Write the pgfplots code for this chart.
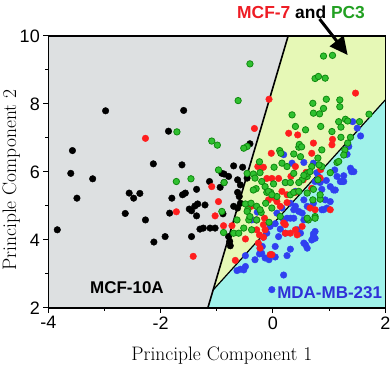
\documentclass[border=0pt]{standalone}
\usepackage{fontspec}
\setsansfont{Liberation Sans}
\usepackage{pgfplots}
\pgfplotsset{compat=1.18}
\usetikzlibrary{arrows.meta}
\definecolor{bggray}{HTML}{DDE0E1}
\definecolor{bgyellow}{HTML}{E6F8B6}
\definecolor{bgcyan}{HTML}{A0F2EA}
\definecolor{dred}{HTML}{FF1E1E}
\definecolor{dgreen}{HTML}{30C030}
\definecolor{dgreenedge}{HTML}{108A10}
\definecolor{dblue}{HTML}{3040F0}
\definecolor{tblue}{HTML}{3030D8}
\definecolor{tred}{HTML}{EE1C24}
\definecolor{tgreen}{HTML}{22A022}
\begin{document}
\begin{tikzpicture}
\useasboundingbox (0,0) rectangle (392pt,366pt);
\begin{axis}[
  at={(48.3pt,58pt)}, anchor=south west,
  scale only axis, width=337pt, height=272pt,
  xmin=-4, xmax=2, ymin=2, ymax=10,
  xtick={-4,-2,0,2}, ytick={2,4,6,8,10},
  minor tick num=1, tick align=outside, tick pos=left,
  major tick length=5pt, minor tick length=3pt,
  axis line style={line width=1.2pt},
  every tick/.style={line width=1pt, black},
  ticklabel style={font=\sffamily\fontsize{18}{18}\selectfont},
  /pgf/number format/assume math mode=true,
  xlabel={Principle Component 1},
  ylabel={Principle Component 2},
  xlabel style={at={(axis description cs:0.515,-0.1434)}, anchor=north, inner sep=0pt, font=\fontsize{19.5}{20}\selectfont},
  ylabel style={at={(axis description cs:-0.1365,0.47)}, anchor=north, inner sep=0pt, font=\fontsize{19.5}{20}\selectfont},
  clip=false, axis on top,
]
% background regions
\addplot[fill=bggray, draw=none] coordinates {(-4,2) (-1.16,2) (0.27,10) (-4,10)} -- cycle;
\addplot[fill=bgyellow, draw=none] coordinates {(-1.065,2.53) (0.27,10) (2,10) (2,8.12)} -- cycle;
\addplot[fill=bgcyan, draw=none] coordinates {(-1.16,2) (2,2) (2,8.12) (-1.065,2.53)} -- cycle;
\addplot[black, line width=1.6pt] coordinates {(-1.16,2) (0.27,10)};
\addplot[black, line width=1.2pt] coordinates {(-1.065,2.53) (2,8.12)};
% black: MCF-10A
\addplot[only marks, mark=*, mark size=3.3pt, black] coordinates {
(-3.84,4.30) (-3.57,6.63) (-3.60,5.96) (-3.49,5.23) (-3.21,5.80) (-2.98,7.80) (-2.63,4.78) (-2.56,5.38) (-2.48,5.23) (-2.37,5.37) (-2.27,4.59) (-2.13,6.24) (-2.12,3.94) (-1.92,4.10) (-1.86,7.20) (-1.84,4.79) (-1.80,5.23) (-1.62,6.21) (-1.61,5.33) (-1.59,7.81) (-1.56,5.38) (-1.49,4.91) (-1.45,4.10) (-1.45,4.86) (-1.39,5.00) (-1.36,5.49) (-1.36,4.71) (-1.34,5.06) (-1.30,4.32) (-1.21,5.03) (-1.13,5.72) (-1.24,4.35) (-1.12,4.35) (-1.03,4.35) (-0.94,5.55) (-0.91,5.96) (-0.89,4.77) (-0.87,5.69) (-0.87,5.94) (-0.79,5.87) (-0.79,4.10) (-0.77,3.96) (-0.76,3.83) (-0.70,6.18) (-0.63,5.77) (-0.63,5.40) (-0.60,5.28) (-0.58,5.08) (-0.58,5.62) (-0.54,6.14) (-0.46,5.82) (-0.41,6.83) (-0.70,4.99) (-0.63,4.94)
};
% blue: MDA-MB-231
\addplot[only marks, mark=*, mark size=3.3pt, dblue] coordinates {
(0.19,6.51) (0.34,6.26) (0.55,6.28) (0.72,6.26) (0.22,5.69) (0.40,5.43) (0.55,5.18) (0.75,5.72) (0.81,5.87) (0.95,5.75) (1.08,5.47) (1.14,5.87) (1.23,5.72) (1.32,6.52) (1.35,6.75) (1.42,7.48) (1.50,7.29) (1.56,7.06) (1.38,6.11) (1.40,6.01) (1.26,5.89) (0.93,5.18) (0.90,4.89) (0.72,5.08) (0.61,4.99) (0.52,4.79) (0.37,4.89) (0.31,4.64) (0.25,4.64) (0.16,4.94) (0.07,4.79) (0.04,4.48) (-0.05,4.40) (-0.11,4.20) (-0.17,4.08) (-0.23,3.76) (-0.32,3.42) (-0.24,3.59) (-0.14,3.47) (-0.07,3.42) (0.04,3.50) (0.25,3.54) (0.31,3.73) (0.19,2.97) (0.10,4.10) (0.13,4.32) (0.22,4.20) (0.43,4.30) (0.49,4.20) (0.58,3.86) (0.55,3.91) (0.72,4.10) (0.75,4.25) (0.55,4.59) (-0.49,3.22) (-0.58,3.14) (-0.64,3.10) (-0.49,3.54) (-0.38,4.59) (-0.30,4.59) (-0.02,2.54) (-0.28,4.82) (1.26,5.72) (1.02,5.13) (0.87,5.49) (0.84,5.69) (0.78,5.98) (0.37,4.64) (1.10,6.06) (1.20,5.72) (1.44,6.01) (1.02,5.57) (1.11,5.47) (0.87,4.89) (0.96,4.94) (0.31,5.08) (0.40,4.99) (0.46,4.84) (0.19,4.59) (0.72,4.18) (0.75,4.05) (0.69,4.00) (0.61,3.76) (-0.20,3.61) (-0.52,3.12) (-0.19,3.81) (0.04,3.81)
};
% red: MCF-7
\addplot[only marks, mark=*, mark size=3.3pt, dred] coordinates {
(-2.27,6.99) (-1.72,4.83) (-1.42,3.52) (-1.09,5.57) (-0.97,5.13) (-1.03,4.71) (-0.88,4.42) (-0.67,3.40) (-0.49,4.03) (-0.33,7.28) (-0.27,6.16) (-0.17,6.14) (-0.07,8.14) (-0.03,6.55) (-0.11,5.81) (0.10,5.81) (-0.15,4.64) (-0.14,4.30) (-0.29,4.30) (-0.17,4.08) (-0.23,3.76) (-0.02,3.57) (0.01,5.25) (0.13,4.99) (0.19,4.50) (0.25,5.10) (0.28,7.14) (0.44,7.09) (0.40,4.30) (0.31,4.20) (0.40,6.16) (0.32,5.87) (0.59,5.99) (0.69,6.55) (0.72,6.85) (0.85,6.07) (0.66,4.94) (0.75,4.89) (1.02,4.89) (1.06,6.96) (1.05,6.80) (1.47,8.32) (0.54,5.77) (-0.08,5.18) (-0.39,4.99) (0.16,5.43) (0.25,5.33) (0.69,5.52) (0.84,5.82) (0.52,4.40) (0.07,5.13) (0.22,4.20) (-0.29,4.59) (0.40,5.40) (-0.73,4.42) (-0.17,4.45) (-0.24,4.15) (-0.26,3.91) (-0.05,3.57) (0.22,4.45) (0.43,4.15) (-0.02,5.81)
};
% green: PC3
\addplot[only marks, mark=*, mark size=3.2pt, fill=dgreen, draw=dgreenedge, line width=0.8pt] coordinates {
(-1.72,5.72) (-1.71,7.18) (-1.46,5.80) (-1.09,6.91) (-0.99,6.79) (-0.62,8.10) (-0.41,9.18) (-0.97,6.06) (-0.87,5.69) (-0.91,4.84) (-0.88,4.22) (-0.70,4.20) (-0.64,4.59) (-0.46,6.75) (-0.49,5.06) (-0.45,4.89) (-0.43,4.59) (-0.39,5.08) (-0.35,5.94) (-0.30,5.51) (-0.24,6.30) (-0.21,4.81) (-0.13,5.08) (-0.07,4.52) (-0.04,5.40) (-0.02,4.94) (0.01,5.65) (0.02,6.14) (0.12,6.63) (0.14,6.55) (0.16,6.26) (0.25,6.16) (0.34,7.68) (0.37,6.53) (0.40,7.34) (0.46,6.73) (0.49,6.45) (0.52,5.77) (0.61,5.87) (0.69,6.16) (0.72,7.73) (0.71,8.02) (0.83,7.71) (0.85,7.34) (0.75,8.75) (0.81,8.81) (0.93,8.76) (0.90,9.41) (1.06,9.43) (0.95,8.14) (0.90,7.87) (1.05,7.19) (1.19,8.12) (1.19,7.92) (1.17,7.48) (1.21,7.32) (1.21,7.02) (1.38,7.02) (1.29,7.55) (1.54,7.48) (1.71,7.70) (0.87,6.65) (0.87,6.16) (0.80,5.77) (0.72,5.49) (0.61,5.38) (0.71,5.18) (0.84,5.20) (0.75,4.69) (0.63,4.59) (1.14,6.28) (1.28,6.65) (1.33,6.85) (1.02,5.98) (0.31,5.33) (0.37,5.40) (0.46,5.69) (0.22,5.69) (0.07,5.28) (-0.11,5.40) (-0.20,5.72) (-0.29,4.59) (-0.38,4.30) (-0.52,4.35) (-0.61,4.20) (-0.23,5.98) (0.13,4.69) (0.31,5.69) (0.37,5.96) (0.58,7.24) (1.33,7.50) (-0.52,6.70) (-0.46,5.96) (-0.32,5.82) (-0.35,5.47) (0.47,6.81) (0.51,6.74) (0.61,5.96) (1.26,6.50) (1.17,6.31) (0.80,6.41) (0.82,6.21) (0.55,5.90) (0.66,6.01) (-0.14,5.57) (-0.08,5.43) (-0.02,5.33) (0.46,5.43) (-0.46,4.84) (-0.41,4.69) (-0.29,4.99) (-0.23,4.89) (0.61,4.64) (0.75,4.64) (0.84,5.33)
};
\node[font=\sffamily\bfseries\fontsize{17}{17}\selectfont, text=black] at (axis cs:-2.60,2.59) {MCF-10A};
\node[font=\sffamily\bfseries\fontsize{17}{17}\selectfont, text=tblue] at (axis cs:1.01,2.44) {MDA-MB-231};
\node[font=\sffamily\bfseries\fontsize{17.4}{18}\selectfont] at (axis cs:0.50,10.71) {\textcolor{tred}{MCF-7} and \textcolor{tgreen}{PC3}};
\draw[line width=3pt, -{Triangle[width=17pt,length=18pt]}] (axis cs:0.83,10.5) -- (axis cs:1.33,9.44);
\end{axis}
\end{tikzpicture}
\end{document}
